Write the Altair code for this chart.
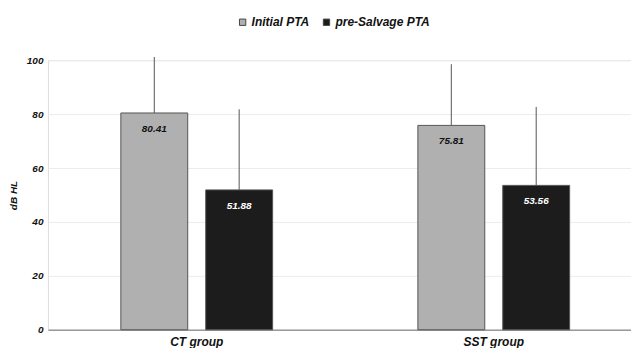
import altair as alt
import pandas as pd

groups = ["CT group", "CT group", "SST group", "SST group"]
series = ["Initial PTA", "pre-Salvage PTA", "Initial PTA", "pre-Salvage PTA"]
means = [80.41, 51.88, 75.81, 53.56]
sds = [20.8, 29.9, 22.7, 29.1]
labels = ["80.41", "51.88", "75.81", "53.56"]

df = pd.DataFrame({"group": groups, "series": series, "mean": means, "sd": sds, "label": labels})
df["top"] = df["mean"] + df["sd"]
df["txtcolor"] = ["#111111", "#ffffff", "#111111", "#ffffff"]

FONT = "Liberation Sans"
order = ["Initial PTA", "pre-Salvage PTA"]
gsort = ["CT group", "SST group"]

x = alt.X("group:N", title=None, sort=gsort,
          scale=alt.Scale(paddingInner=0.489, paddingOuter=0.226, align=0.543),
          axis=alt.Axis(labelAngle=0, labelFont=FONT, labelFontSize=12, labelFontWeight="bold",
                        labelFontStyle="italic", labelColor="#111", ticks=False, domain=True,
                        domainColor="#999", domainWidth=1.5, labelPadding=7))
xo = alt.XOffset("series:N", sort=order, scale=alt.Scale(paddingInner=0.212, paddingOuter=0))
y = alt.Y("mean:Q", title="dB HL", scale=alt.Scale(domain=[0, 100]),
          axis=alt.Axis(values=[0, 20, 40, 60, 80, 100], labelFont=FONT, labelFontSize=10,
                        labelFontWeight="bold", labelFontStyle="italic", labelColor="#111",
                        titleFont=FONT, titleFontSize=10, titleFontWeight="bold",
                        titleFontStyle="italic", titleColor="#111", titlePadding=8,
                        ticks=False, domain=False, gridColor="#ececec", labelPadding=5))

color = alt.Color("series:N", sort=order, title=None,
                  scale=alt.Scale(domain=order, range=["#b0b0b0", "#1c1c1c"]),
                  legend=alt.Legend(orient="none", legendX=189, legendY=-44,
                                    direction="horizontal", symbolType="square",
                                    symbolSize=40, symbolStrokeColor="#444", symbolStrokeWidth=1,
                                    labelFont=FONT, labelFontSize=12, labelFontWeight="bold",
                                    labelFontStyle="italic", labelColor="#111", columnPadding=11,
                                    labelOffset=3))

base = alt.Chart(df)
bars = base.mark_bar(stroke="#555", strokeWidth=1).encode(x=x, xOffset=xo, y=y, color=color)
err = base.mark_rule(color="#555", strokeWidth=1).encode(
    x=alt.X("group:N", sort=gsort), xOffset=alt.XOffset("series:N", sort=order),
    y="mean:Q", y2="top:Q")
text = base.mark_text(font=FONT, fontSize=10, fontWeight="bold", fontStyle="italic",
                      baseline="middle", dy=16).encode(
    x=alt.X("group:N", sort=gsort), xOffset=alt.XOffset("series:N", sort=order),
    y="mean:Q", text="label:N", color=alt.Color("txtcolor:N", scale=None))

chart = alt.layer(bars, err, text).properties(width=584, height=270).configure_view(
    stroke=None).configure(padding={"left": 0, "right": 0, "top": 8, "bottom": 0})

chart.save("out.html", embed_options={"renderer": "svg", "actions": False})
